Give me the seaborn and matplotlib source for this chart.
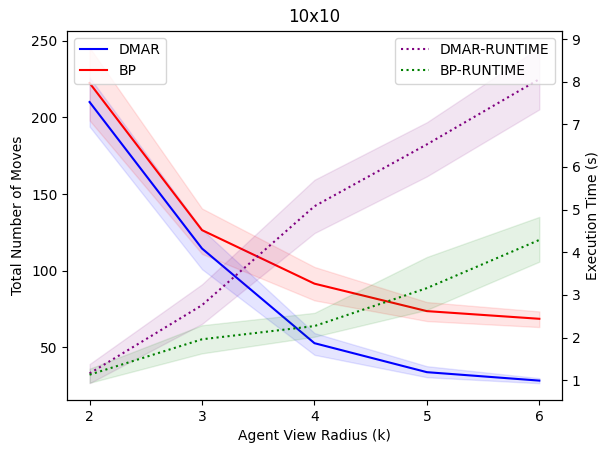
import numpy as np
import matplotlib
matplotlib.use("Agg")
import matplotlib.pyplot as plt
import seaborn as sns

radius = [2, 3, 4, 5, 6]

# total number of moves (left axis)
dmar_moves = [210, 114.5, 52.8, 33.9, 28.4]
dmar_moves_lo = [194, 101, 45.2, 30.6, 26.7]
dmar_moves_hi = [226, 127, 59.4, 37.8, 30.0]

bp_moves = [222.4, 126.5, 91.6, 73.7, 68.7]
bp_moves_lo = [198, 111, 80.7, 67.2, 63.3]
bp_moves_hi = [245.5, 140.6, 102.5, 79.6, 73.5]

# execution time in seconds (right axis)
dmar_time = [1.16, 2.76, 5.08, 6.53, 8.06]
dmar_time_lo = [0.93, 2.32, 4.45, 5.78, 7.35]
dmar_time_hi = [1.38, 3.25, 5.70, 7.05, 8.80]

bp_time = [1.13, 1.96, 2.27, 3.16, 4.29]
bp_time_lo = [0.94, 1.63, 2.02, 2.65, 3.78]
bp_time_hi = [1.27, 2.29, 2.58, 3.89, 4.83]

fig, ax = plt.subplots(figsize=(6.1, 4.53), dpi=100)
fig.subplots_adjust(left=0.11, right=0.921, top=0.932, bottom=0.117)

sns.lineplot(x=radius, y=dmar_moves, color="blue", label="DMAR", ax=ax)
ax.fill_between(radius, dmar_moves_lo, dmar_moves_hi, color="blue", alpha=0.1)
sns.lineplot(x=radius, y=bp_moves, color="red", label="BP", ax=ax)
ax.fill_between(radius, bp_moves_lo, bp_moves_hi, color="red", alpha=0.1)
ax.set_xlabel("Agent View Radius (k)")
ax.set_ylabel("Total Number of Moves")
ax.set_xticks(radius)
ax.legend(loc="upper left")

ax2 = ax.twinx()
sns.lineplot(x=radius, y=dmar_time, color="purple", linestyle=":", label="DMAR-RUNTIME", ax=ax2)
ax2.fill_between(radius, dmar_time_lo, dmar_time_hi, color="purple", alpha=0.1)
sns.lineplot(x=radius, y=bp_time, color="green", linestyle=":", label="BP-RUNTIME", ax=ax2)
ax2.fill_between(radius, bp_time_lo, bp_time_hi, color="green", alpha=0.1)
ax2.set_ylabel("Execution Time (s)")
ax2.legend(loc="upper right")

ax.set_title("10x10")
fig.savefig("out.png", dpi=100)
